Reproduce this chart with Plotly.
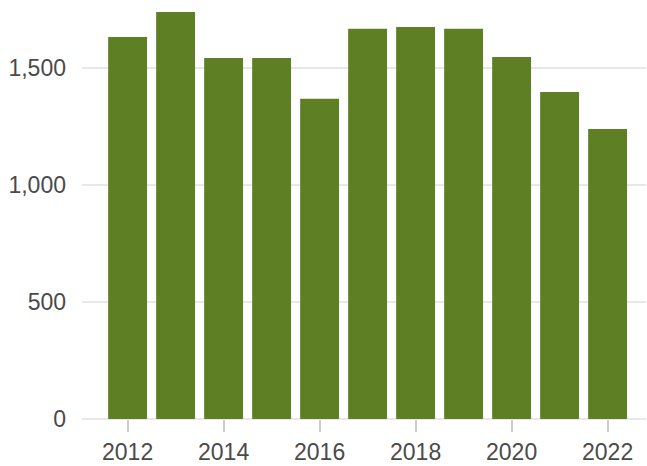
import plotly.graph_objects as go

# Annual totals
years = [2012, 2013, 2014, 2015, 2016, 2017, 2018, 2019, 2020, 2021, 2022]
values = [1632, 1739, 1543, 1543, 1368, 1667, 1675, 1667, 1547, 1397, 1239]

y_tickvals = [0, 500, 1000, 1500]
y_ticktext = ["0", "500", "1,000", "1,500"]

BAR_COLOR = "#5e7f24"
GRID_COLOR = "#e8e8e8"
TEXT_COLOR = "#4a4a4a"
FONT = "Liberation Sans, Arial, sans-serif"

fig = go.Figure(
    go.Bar(
        x=years,
        y=values,
        marker=dict(color=BAR_COLOR, line=dict(width=0)),
        hoverinfo="x+y",
    )
)

fig.update_layout(
    width=647,
    height=466,
    margin=dict(l=82, r=1, t=5, b=47),
    plot_bgcolor="white",
    paper_bgcolor="white",
    bargap=0.19,
    showlegend=False,
    font=dict(family=FONT, size=23, color=TEXT_COLOR),
)

fig.update_xaxes(
    range=[2011.05, 2022.8],
    tickmode="array",
    tickvals=years[::2],
    ticktext=[str(y) for y in years[::2]],
    ticks="outside",
    ticklen=12,
    tickwidth=2,
    tickcolor="#cccccc",
    showgrid=False,
    showline=False,
    zeroline=False,
    tickfont=dict(family=FONT, size=23, color=TEXT_COLOR),
)

fig.update_yaxes(
    range=[0, 1769],
    tickmode="array",
    tickvals=y_tickvals,
    ticktext=y_ticktext,
    showgrid=True,
    gridcolor=GRID_COLOR,
    gridwidth=2,
    zeroline=True,
    zerolinecolor=GRID_COLOR,
    zerolinewidth=2,
    showline=False,
    ticks="",
    ticklabelstandoff=15,
    tickfont=dict(family=FONT, size=23, color=TEXT_COLOR),
)

fig.write_html("out.html")
